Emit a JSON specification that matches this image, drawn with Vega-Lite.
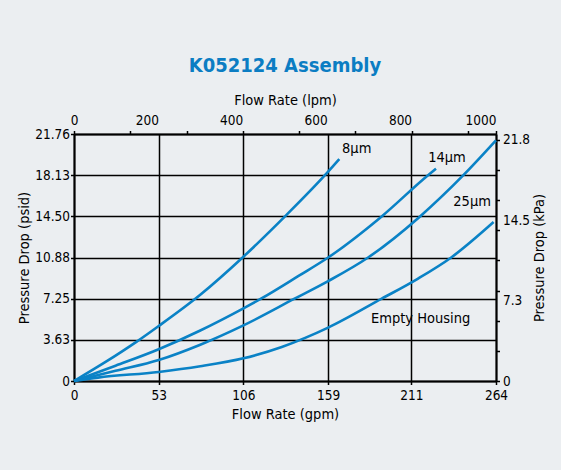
{
  "$schema": "https://vega.github.io/schema/vega-lite/v6.json",
  "width": 422,
  "height": 247,
  "autosize": {"type": "none"},
  "padding": {"left": 74, "top": 134, "right": 65, "bottom": 89},
  "background": "#ebeef1",
  "title": {
    "text": "K052124 Assembly",
    "font": "DejaVu Sans Condensed",
    "fontSize": 20,
    "fontWeight": "bold",
    "color": "#0b7dc3",
    "anchor": "middle",
    "offset": 17
  },
  "config": {
    "view": {"stroke": null},
    "font": "DejaVu Sans Condensed",
    "axis": {
      "labelFont": "DejaVu Sans Condensed",
      "titleFont": "DejaVu Sans Condensed",
      "labelColor": "#000000",
      "titleColor": "#000000",
      "labelFontSize": 13.5,
      "titleFontSize": 14.5,
      "titleFontWeight": "normal",
      "domainColor": "#000000",
      "domainWidth": 2,
      "tickColor": "#000000",
      "tickWidth": 1.5,
      "tickSize": 3.5,
      "gridColor": "#000000",
      "gridWidth": 1.5,
      "gridOpacity": 1,
      "labelFlush": false,
      "labelOverlap": false
    }
  },
  "datasets": {
    "curves": [
      {"series": "8µm", "gpm": 0, "psid": 0},
      {"series": "8µm", "gpm": 20, "psid": 1.7},
      {"series": "8µm", "gpm": 39, "psid": 3.45},
      {"series": "8µm", "gpm": 53, "psid": 4.85},
      {"series": "8µm", "gpm": 79, "psid": 7.6},
      {"series": "8µm", "gpm": 106, "psid": 10.95},
      {"series": "8µm", "gpm": 132, "psid": 14.5},
      {"series": "8µm", "gpm": 157, "psid": 18.13},
      {"series": "8µm", "gpm": 166, "psid": 19.55},
      {"series": "14µm", "gpm": 0, "psid": 0},
      {"series": "14µm", "gpm": 26, "psid": 1.35},
      {"series": "14µm", "gpm": 53, "psid": 2.8},
      {"series": "14µm", "gpm": 79, "psid": 4.45},
      {"series": "14µm", "gpm": 106, "psid": 6.4},
      {"series": "14µm", "gpm": 117, "psid": 7.25},
      {"series": "14µm", "gpm": 141, "psid": 9.3},
      {"series": "14µm", "gpm": 159, "psid": 10.88},
      {"series": "14µm", "gpm": 192.5, "psid": 14.5},
      {"series": "14µm", "gpm": 221.5, "psid": 18.13},
      {"series": "14µm", "gpm": 226.5, "psid": 18.7},
      {"series": "25µm", "gpm": 0, "psid": 0},
      {"series": "25µm", "gpm": 26, "psid": 0.9},
      {"series": "25µm", "gpm": 53, "psid": 1.85},
      {"series": "25µm", "gpm": 79, "psid": 3.2},
      {"series": "25µm", "gpm": 106, "psid": 4.9},
      {"series": "25µm", "gpm": 138, "psid": 7.25},
      {"series": "25µm", "gpm": 159, "psid": 8.8},
      {"series": "25µm", "gpm": 184, "psid": 10.88},
      {"series": "25µm", "gpm": 216.5, "psid": 14.5},
      {"series": "25µm", "gpm": 243.6, "psid": 18.13},
      {"series": "25µm", "gpm": 264, "psid": 21.2},
      {"series": "Empty Housing", "gpm": 0, "psid": 0},
      {"series": "Empty Housing", "gpm": 15, "psid": 0.3},
      {"series": "Empty Housing", "gpm": 53, "psid": 0.8},
      {"series": "Empty Housing", "gpm": 79, "psid": 1.3},
      {"series": "Empty Housing", "gpm": 106, "psid": 2.0},
      {"series": "Empty Housing", "gpm": 130, "psid": 3.0},
      {"series": "Empty Housing", "gpm": 159, "psid": 4.7},
      {"series": "Empty Housing", "gpm": 192.5, "psid": 7.25},
      {"series": "Empty Housing", "gpm": 215, "psid": 9.0},
      {"series": "Empty Housing", "gpm": 236, "psid": 10.88},
      {"series": "Empty Housing", "gpm": 262.5, "psid": 14.0}
    ],
    "labels": [
      {"label": "8µm", "gpm": 167.7, "psid": 20.44},
      {"label": "14µm", "gpm": 221.6, "psid": 19.62},
      {"label": "25µm", "gpm": 237.3, "psid": 15.8},
      {"label": "Empty Housing", "gpm": 185.8, "psid": 5.44}
    ],
    "secondary": [
      {"lpm": 0, "kpa": 0},
      {"lpm": 1000, "kpa": 21.8}
    ]
  },
  "layer": [
    {
      "layer": [
        {
          "data": {"name": "curves"},
          "mark": {"type": "line", "interpolate": "monotone", "color": "#0a82c6", "strokeWidth": 2.6},
          "encoding": {
            "x": {
              "field": "gpm",
              "type": "quantitative",
              "scale": {"domain": [0, 264], "nice": false, "zero": true},
              "axis": {
                "orient": "bottom",
                "values": [0, 53, 106, 159, 211, 264],
                "grid": true,
                "title": "Flow Rate  (gpm)",
                "labelPadding": 4,
                "titlePadding": 5
              }
            },
            "y": {
              "field": "psid",
              "type": "quantitative",
              "scale": {"domain": [0, 21.76], "nice": false},
              "axis": {
                "orient": "left",
                "values": [0, 3.63, 7.25, 10.88, 14.5, 18.13, 21.76],
                "labelExpr": "datum.value == 0 ? '0' : format(datum.value, '.2f')",
                "grid": true,
                "title": "Pressure Drop  (psid)",
                "labelPadding": 1,
                "titlePadding": 3
              }
            },
            "detail": {"field": "series"}
          }
        },
        {
          "data": {"name": "labels"},
          "mark": {"type": "text", "align": "left", "baseline": "middle", "fontSize": 14.5, "color": "#000000", "font": "DejaVu Sans Condensed"},
          "encoding": {
            "x": {"field": "gpm", "type": "quantitative"},
            "y": {"field": "psid", "type": "quantitative"},
            "text": {"field": "label"}
          }
        }
      ]
    },
    {
      "data": {"name": "secondary"},
      "mark": {"type": "point", "opacity": 0},
      "encoding": {
        "x": {
          "field": "lpm",
          "type": "quantitative",
          "scale": {"domain": [0, 1000], "nice": false},
          "axis": {
            "orient": "top",
            "values": [0, 133.33, 200, 266.67, 400, 533.33, 600, 666.67, 800, 933.33, 1000],
            "labelExpr": "(datum.value % 200 == 0) ? format(datum.value, 'd') : ''",
            "tickOpacity": {"condition": {"test": "datum.value == 200 || datum.value == 600", "value": 0}, "value": 1},
            "labelAlign": {"condition": {"test": "datum.value == 0", "value": "center"}, "value": "right"},
            "grid": false,
            "title": "Flow Rate  (lpm)",
            "labelPadding": 3,
            "titlePadding": 6
          }
        },
        "y": {
          "field": "kpa",
          "type": "quantitative",
          "scale": {"domain": [0, 22.34], "nice": false},
          "axis": {
            "orient": "right",
            "values": [0, 2.725, 5.45, 7.3, 8.175, 10.9, 13.625, 14.5, 16.35, 19.075, 21.8],
            "labelExpr": "datum.value == 0 ? '0' : ((datum.value == 7.3 || datum.value == 14.5 || datum.value == 21.8) ? format(datum.value, '.1f') : '')",
            "tickOpacity": {"condition": {"test": "datum.value == 7.3 || datum.value == 14.5", "value": 0}, "value": 1},
            "grid": false,
            "title": "Pressure Drop  (kPa)",
            "titleAngle": 270,
            "titleBaseline": "top",
            "labelPadding": 3,
            "titlePadding": 3
          }
        }
      }
    }
  ],
  "resolve": {"scale": {"x": "independent", "y": "independent"}}
}
